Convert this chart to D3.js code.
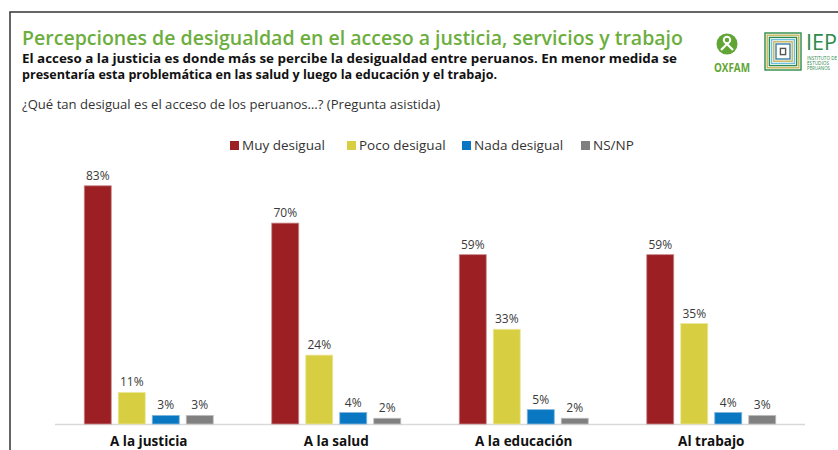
<!DOCTYPE html>
<html>
<head>
<meta charset="utf-8">
<script src="https://cdn.jsdelivr.net/npm/d3@7"></script>
<style>
  body { margin: 0; background: #fff; }
  svg text { font-family: "Open Sans", "Noto Sans", sans-serif; }
</style>
</head>
<body>
<div id="container"></div>
<script>
  // data
  const categories = ["A la justicia", "A la salud", "A la educación", "Al trabajo"];
  const series = ["Muy desigual", "Poco desigual", "Nada desigual", "NS/NP"];
  const muy = [83, 70, 59, 59];
  const poco = [11, 24, 33, 35];
  const nada = [3, 4, 5, 4];
  const nsnp = [3, 2, 2, 3];
  const colors = ["#9b1f23", "#d7cf41", "#0a77c2", "#808080"];
  const strokes = ["#c98a8c", "#ebe69c", "#7fb6de", "#bdbdbd"];

  const values = [muy, poco, nada, nsnp];

  const width = 838;
  const height = 450;

  const svg = d3.create("svg")
      .attr("width", width)
      .attr("height", height);

  // frame
  svg.append("path")
      .attr("d", "M 10,460 L 10,12 L 850,12")
      .attr("fill", "none")
      .attr("stroke", "#333")
      .attr("stroke-width", 1.5);

  // title
  svg.append("text")
      .attr("x", 22)
      .attr("y", 45)
      .attr("font-size", 20)
      .attr("font-weight", 600)
      .attr("fill", "#6cae3e")
      .attr("textLength", 661)
      .attr("lengthAdjust", "spacingAndGlyphs")
      .text("Percepciones de desigualdad en el acceso a justicia, servicios y trabajo");

  svg.append("text")
      .attr("x", 22)
      .attr("y", 63)
      .attr("font-size", 12.5)
      .attr("font-weight", 700)
      .attr("fill", "#111")
      .attr("textLength", 655)
      .attr("lengthAdjust", "spacingAndGlyphs")
      .text("El acceso a la justicia es donde más se percibe la desigualdad entre peruanos. En menor medida se");

  svg.append("text")
      .attr("x", 22)
      .attr("y", 79)
      .attr("font-size", 12.5)
      .attr("font-weight", 700)
      .attr("fill", "#111")
      .attr("textLength", 475)
      .attr("lengthAdjust", "spacingAndGlyphs")
      .text("presentaría esta problemática en las salud y luego la educación y el trabajo.");

  svg.append("text")
      .attr("x", 22)
      .attr("y", 109)
      .attr("font-size", 12.5)
      .attr("fill", "#333")
      .attr("textLength", 418)
      .attr("lengthAdjust", "spacingAndGlyphs")
      .text("¿Qué tan desigual es el acceso de los peruanos…? (Pregunta asistida)");

  // logos
  const oxfam = svg.append("g");
  oxfam.append("circle")
      .attr("cx", 727)
      .attr("cy", 44)
      .attr("r", 10.5)
      .attr("fill", "#61a534");
  oxfam.append("circle")
      .attr("cx", 727)
      .attr("cy", 40)
      .attr("r", 3.2)
      .attr("fill", "none")
      .attr("stroke", "#fff")
      .attr("stroke-width", 2);
  oxfam.append("path")
      .attr("d", "M 721,50 L 727,44 L 733,50")
      .attr("fill", "none")
      .attr("stroke", "#fff")
      .attr("stroke-width", 2.2);
  oxfam.append("text")
      .attr("x", 732)
      .attr("y", 72)
      .attr("text-anchor", "middle")
      .attr("font-size", 12)
      .attr("font-weight", 700)
      .attr("fill", "#61a534")
      .attr("textLength", 36)
      .attr("lengthAdjust", "spacingAndGlyphs")
      .text("OXFAM");

  const iep = svg.append("g");
  const boxColors = ["#2e8b4a", "#c9b458", "#2e8b4a", "#6fbfe0", "#c9b458", "#3a7fa8", "#fff", "#555"];
  boxColors.forEach((c, i) => {
    iep.append("rect")
        .attr("x", 765 + i * 2.2)
        .attr("y", 33 + i * 2.2)
        .attr("width", 36 - i * 4.4)
        .attr("height", 37 - i * 4.4)
        .attr("fill", "none")
        .attr("stroke", c)
        .attr("stroke-width", 1.4);
  });
  iep.append("text")
      .attr("x", 806)
      .attr("y", 50)
      .attr("font-family", "Liberation Serif, serif")
      .attr("font-size", 21)
      .attr("fill", "#2e8b4a")
      .attr("textLength", 31)
      .attr("lengthAdjust", "spacingAndGlyphs")
      .text("IEP");
  ["INSTITUTO DE", "ESTUDIOS", "PERUANOS"].forEach((t, i) => {
    iep.append("text")
        .attr("x", 807)
        .attr("y", 59.5 + i * 5)
        .attr("font-size", 4.6)
        .attr("fill", "#2e8b4a")
        .attr("textLength", i === 0 ? 30 : i === 1 ? 22 : 23)
        .attr("lengthAdjust", "spacingAndGlyphs")
        .text(t);
  });

  // legend
  const legendX = [230, 347, 462, 581];
  const legend = svg.append("g");
  series.forEach((s, i) => {
    legend.append("rect")
        .attr("x", legendX[i])
        .attr("y", 141)
        .attr("width", 9)
        .attr("height", 9)
        .attr("fill", colors[i]);
    legend.append("text")
        .attr("x", legendX[i] + 12)
        .attr("y", 150)
        .attr("font-size", 13.5)
        .attr("fill", "#333")
        .text(s);
  });

  // scales
  const x0 = d3.scaleBand()
      .domain(categories)
      .range([55, 805]);

  const x1 = d3.scaleBand()
      .domain(series)
      .range([-64.5, 64.5])
      .paddingInner(0.206);

  const y = d3.scaleLinear()
      .domain([0, 100])
      .range([424, 137]);

  // axis line
  svg.append("line")
      .attr("x1", 55)
      .attr("x2", 805)
      .attr("y1", y(0) + 0.5)
      .attr("y2", y(0) + 0.5)
      .attr("stroke", "#d9d9d9")
      .attr("stroke-width", 1.5);

  const groups = svg.append("g")
      .selectAll("g")
      .data(categories)
      .join("g")
      .attr("transform", d => `translate(${x0(d) + x0.bandwidth() / 2},0)`);

  groups.selectAll("rect")
      .data((d, ci) => series.map((s, si) => ({ s, si, v: values[si][ci] })))
      .join("rect")
      .attr("x", d => x1(d.s))
      .attr("y", d => y(d.v))
      .attr("width", x1.bandwidth())
      .attr("height", d => y(0) - y(d.v))
      .attr("fill", d => colors[d.si])
      .attr("stroke", d => strokes[d.si])
      .attr("stroke-width", 0.8);

  groups.selectAll("text.val")
      .data((d, ci) => series.map((s, si) => ({ s, si, v: values[si][ci] })))
      .join("text")
      .attr("class", "val")
      .attr("x", d => x1(d.s) + x1.bandwidth() / 2)
      .attr("y", d => y(d.v) - 6)
      .attr("text-anchor", "middle")
      .attr("font-size", 12)
      .attr("fill", "#3a3a3a")
      .text(d => d.v + "%");

  // category labels
  svg.append("g")
      .selectAll("text")
      .data(categories)
      .join("text")
      .attr("x", d => x0(d) + x0.bandwidth() / 2)
      .attr("y", 446)
      .attr("text-anchor", "middle")
      .attr("font-size", 13.5)
      .attr("font-weight", 700)
      .attr("fill", "#111")
      .text(d => d);

  container.append(svg.node());
</script>
</body>
</html>
